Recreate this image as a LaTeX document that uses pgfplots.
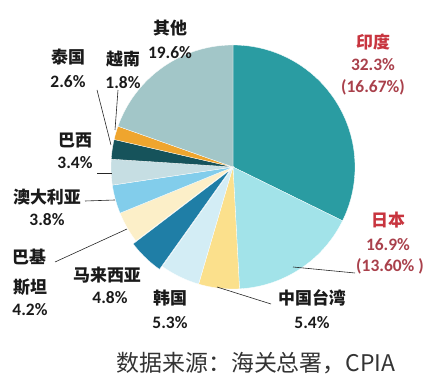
\documentclass[border=0pt]{standalone}
\usepackage{pgfplots}
\pgfplotsset{compat=1.18}
\usepackage{fontspec}
\setmainfont{Carlito}
\newfontfamily\cjk{Noto Sans CJK SC}
\definecolor{cIN}{HTML}{2A9CA2}
\definecolor{cJP}{HTML}{A2E3E9}
\definecolor{cTW}{HTML}{FBE08C}
\definecolor{cKR}{HTML}{D3EDF5}
\definecolor{cMY}{HTML}{1F7EA6}
\definecolor{cPK}{HTML}{FCEFC8}
\definecolor{cAU}{HTML}{82CDEB}
\definecolor{cBR}{HTML}{C6DEE3}
\definecolor{cTH}{HTML}{16535B}
\definecolor{cVN}{HTML}{EFA52E}
\definecolor{cOT}{HTML}{A2C6C8}
\definecolor{cRed}{HTML}{C8353F}
\definecolor{cRed2}{HTML}{A9404B}
\definecolor{cTxt}{HTML}{1A1A1A}
% slice: colour, cumulative share before it, share, centre x, centre y
\newcommand\slice[5]{%
  \pgfmathsetmacro\sA{90-(#2/100.1)*360}%
  \pgfmathsetmacro\sB{90-((#2+#3)/100.1)*360}%
  \edef\doslice{\noexpand\addplot[fill=#1, draw=white, line width=0.3pt,
      domain=\sB:\sA, samples=80, variable=\noexpand\t]
    ({#4+122*cos(\noexpand\t)},{#5+122*sin(\noexpand\t)}) -- (axis cs:#4,#5) -- cycle;}%
  \doslice}
\tikzset{
  nm/.style={font=\cjk\bfseries\fontsize{17}{19}\selectfont, text=cTxt, inner sep=0pt},
  pc/.style={font=\bfseries\fontsize{17.5}{19}\selectfont, text=cTxt, inner sep=0pt},
  nmr/.style={font=\cjk\bfseries\fontsize{17}{19}\selectfont, text=cRed, inner sep=0pt},
  pcr/.style={font=\bfseries\fontsize{17.5}{19}\selectfont, text=cRed2, inner sep=0pt},
}
\begin{document}
\begin{tikzpicture}
\begin{axis}[
  width=425bp, height=385bp, scale only axis,
  xmin=0, xmax=425, ymin=0, ymax=385,
  hide axis, clip=false,
]
\addplot[draw=none] coordinates {(0,0) (425,385)};
\slice{cIN}{0}{32.3}{233}{218}
\slice{cJP}{32.3}{16.9}{233}{218}
\slice{cTW}{49.2}{5.4}{233}{218}
\slice{cKR}{54.6}{5.3}{233}{218}
\slice{cMY}{59.9}{4.8}{230.2}{215.1}
\slice{cPK}{64.7}{4.2}{233}{218}
\slice{cAU}{68.9}{3.8}{233}{218}
\slice{cBR}{72.7}{3.4}{233}{218}
\slice{cTH}{76.1}{2.6}{233}{218}
\slice{cVN}{78.7}{1.8}{233}{218}
\slice{cOT}{80.5}{19.6}{233}{218}
% leader lines
\addplot[black!85, line width=0.6pt] coordinates {(97,295) (111,240)};
\addplot[black!85, line width=0.6pt] coordinates {(118,295) (115,255)};
\addplot[black!85, line width=0.6pt] coordinates {(97,212) (112,212)};
\addplot[black!85, line width=0.6pt] coordinates {(85,184) (115,185)};
\addplot[black!85, line width=0.6pt] coordinates {(55,123) (127,156)};
\addplot[black!85, line width=0.6pt] coordinates {(217,98) (271,81)};
\addplot[black!85, line width=0.6pt] coordinates {(293,118) (355,112)};
% labels
\node[nm] at (axis cs:170,357) {其他};
\node[pc] at (axis cs:170,332) {19.6\%};
\node[nm] at (axis cs:68,328) {泰国};
\node[pc] at (axis cs:68,303) {2.6\%};
\node[nm] at (axis cs:123,326) {越南};
\node[pc] at (axis cs:123,302) {1.8\%};
\node[nmr] at (axis cs:373,343) {印度};
\node[pcr] at (axis cs:373,320) {32.3\%};
\node[pcr] at (axis cs:373,298) {(16.67\%)};
\node[nmr] at (axis cs:388,165) {日本};
\node[pcr] at (axis cs:388,140) {16.9\%};
\node[pcr] at (axis cs:390,119) {(13.60\% )};
\node[nm] at (axis cs:312,87) {中国台湾};
\node[pc] at (axis cs:312,62) {5.4\%};
\node[nm] at (axis cs:170,87) {韩国};
\node[pc] at (axis cs:170,62) {5.3\%};
\node[nm] at (axis cs:107,110) {马来西亚};
\node[pc] at (axis cs:110,87) {4.8\%};
\node[nm] at (axis cs:29,128) {巴基};
\node[nm] at (axis cs:30,98) {斯坦};
\node[pc] at (axis cs:30,75) {4.2\%};
\node[nm] at (axis cs:47,188) {澳大利亚};
\node[pc] at (axis cs:47,165) {3.8\%};
\node[nm] at (axis cs:75,245) {巴西};
\node[pc] at (axis cs:75,222) {3.4\%};
\node[font=\cjk\fontsize{23}{25}\selectfont, text=black!80, inner sep=0pt] at (axis cs:256,22) {数据来源：海关总署，CPIA};
\end{axis}
\end{tikzpicture}
\end{document}
